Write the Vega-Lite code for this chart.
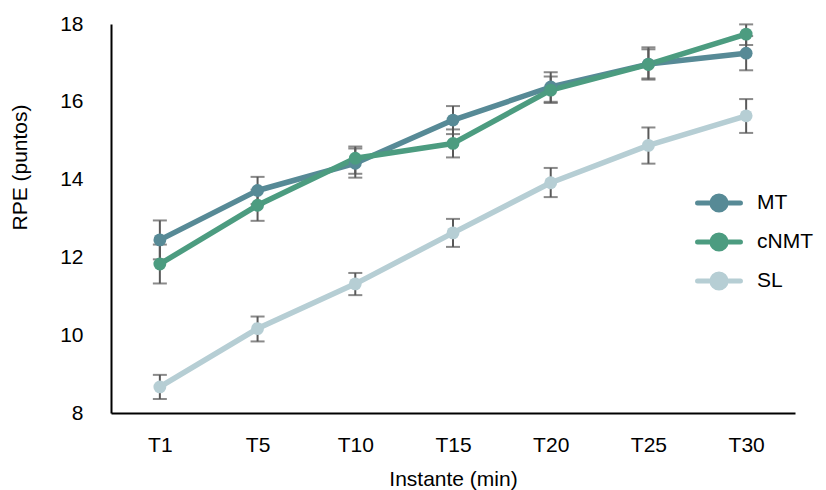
{
  "$schema": "https://vega.github.io/schema/vega-lite/v6.json",
  "width": 684,
  "height": 389,
  "autosize": {"type": "none"},
  "padding": {"left": 111, "top": 24, "right": 31, "bottom": 77},
  "background": "white",
  "config": {
    "font": "Liberation Sans",
    "view": {"stroke": null}
  },
  "data": {
    "values": [
      {"t": "T1", "g": "MT", "m": 12.45, "lo": 11.95, "hi": 12.95},
      {"t": "T5", "g": "MT", "m": 13.72, "lo": 13.37, "hi": 14.07},
      {"t": "T10", "g": "MT", "m": 14.42, "lo": 14.05, "hi": 14.8},
      {"t": "T15", "g": "MT", "m": 15.53, "lo": 15.17, "hi": 15.89},
      {"t": "T20", "g": "MT", "m": 16.38, "lo": 16.0, "hi": 16.76},
      {"t": "T25", "g": "MT", "m": 16.97, "lo": 16.57, "hi": 17.4},
      {"t": "T30", "g": "MT", "m": 17.25, "lo": 16.81, "hi": 17.69},
      {"t": "T1", "g": "cNMT", "m": 11.83, "lo": 11.33, "hi": 12.33},
      {"t": "T5", "g": "cNMT", "m": 13.34, "lo": 12.94, "hi": 13.74},
      {"t": "T10", "g": "cNMT", "m": 14.55, "lo": 14.15, "hi": 14.85},
      {"t": "T15", "g": "cNMT", "m": 14.93, "lo": 14.57, "hi": 15.29},
      {"t": "T20", "g": "cNMT", "m": 16.3, "lo": 15.97, "hi": 16.65},
      {"t": "T25", "g": "cNMT", "m": 16.96, "lo": 16.6, "hi": 17.35},
      {"t": "T30", "g": "cNMT", "m": 17.74, "lo": 17.46, "hi": 17.99},
      {"t": "T1", "g": "SL", "m": 8.67, "lo": 8.36, "hi": 8.98},
      {"t": "T5", "g": "SL", "m": 10.17, "lo": 9.84, "hi": 10.48},
      {"t": "T10", "g": "SL", "m": 11.32, "lo": 11.03, "hi": 11.6},
      {"t": "T15", "g": "SL", "m": 12.63, "lo": 12.27, "hi": 12.99},
      {"t": "T20", "g": "SL", "m": 13.92, "lo": 13.55, "hi": 14.3},
      {"t": "T25", "g": "SL", "m": 14.88, "lo": 14.41, "hi": 15.34},
      {"t": "T30", "g": "SL", "m": 15.64, "lo": 15.2, "hi": 16.07}
    ]
  },
  "encoding": {
    "x": {
      "field": "t",
      "type": "ordinal",
      "sort": ["T1", "T5", "T10", "T15", "T20", "T25", "T30"],
      "scale": {"type": "point", "padding": 0.5},
      "axis": {
        "title": "Instante (min)",
        "labelAngle": 0,
        "labelFontSize": 21,
        "labelColor": "#000000",
        "labelPadding": 21,
        "ticks": false,
        "domainColor": "#000000",
        "domainWidth": 2,
        "titleFontSize": 21,
        "titleFontWeight": "normal",
        "titleColor": "#000000",
        "titlePadding": 13
      }
    }
  },
  "layer": [
    {
      "mark": {"type": "rule", "color": "#595959", "strokeWidth": 2},
      "encoding": {
        "y": {"field": "lo", "type": "quantitative"},
        "y2": {"field": "hi"}
      }
    },
    {
      "mark": {"type": "tick", "color": "#595959", "thickness": 2, "size": 14, "orient": "horizontal"},
      "encoding": {"y": {"field": "lo", "type": "quantitative"}}
    },
    {
      "mark": {"type": "tick", "color": "#595959", "thickness": 2, "size": 14, "orient": "horizontal"},
      "encoding": {"y": {"field": "hi", "type": "quantitative"}}
    },
    {
      "mark": {"type": "line", "strokeWidth": 5.5, "strokeCap": "round", "strokeJoin": "round"},
      "encoding": {
        "y": {
          "field": "m",
          "type": "quantitative",
          "scale": {"domain": [8, 18], "nice": false, "zero": false},
          "axis": {
            "title": "RPE (puntos)",
            "values": [8, 10, 12, 14, 16, 18],
            "grid": false,
            "ticks": false,
            "labelFontSize": 21,
            "labelColor": "#000000",
            "labelPadding": 28,
            "domainColor": "#000000",
            "domainWidth": 2,
            "titleFontSize": 21,
            "titleFontWeight": "normal",
            "titleColor": "#000000",
            "titleX": -91,
            "titleY": 143,
            "titleBaseline": "middle",
            "titleAlign": "center",
            "titleAngle": 270
          }
        },
        "color": {
          "field": "g",
          "type": "nominal",
          "sort": ["MT", "cNMT", "SL"],
          "scale": {"domain": ["MT", "cNMT", "SL"], "range": ["#578A96", "#4C9C80", "#B6CED4"]},
          "legend": {
            "title": null,
            "orient": "none",
            "legendX": 589,
            "legendY": 160,
            "symbolType": "M -1.3 0 L 1.3 0 M -0.43 0 A 0.43 0.43 0 1 0 0.43 0 A 0.43 0.43 0 1 0 -0.43 0",
            "symbolSize": 1089,
            "symbolStrokeWidth": 5,
            "labelFontSize": 21,
            "labelColor": "#000000",
            "labelOffset": 19,
            "rowPadding": 2,
            "encode": {
              "symbols": {
                "update": {
                  "fill": {"scale": "color", "field": "value"},
                  "stroke": {"scale": "color", "field": "value"},
                  "strokeWidth": {"value": 5},
                  "strokeCap": {"value": "round"},
                  "opacity": {"value": 1}
                }
              }
            }
          }
        },
        "detail": {"field": "g"}
      }
    },
    {
      "mark": {"type": "point", "filled": true, "size": 165, "opacity": 1, "shape": "circle"},
      "encoding": {
        "y": {"field": "m", "type": "quantitative"},
        "color": {"field": "g", "type": "nominal"}
      }
    }
  ]
}
